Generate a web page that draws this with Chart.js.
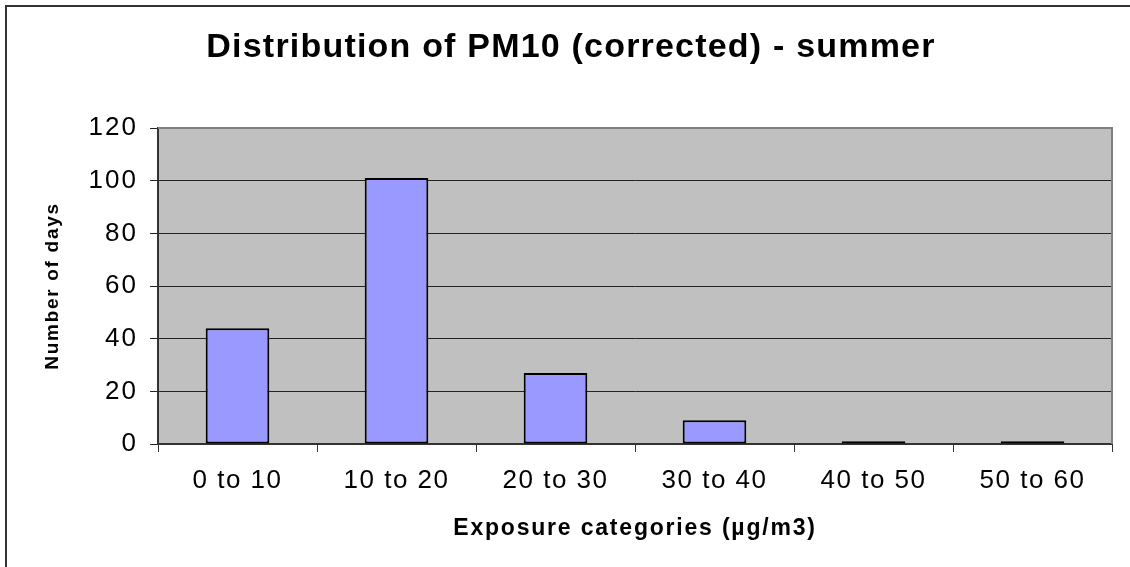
<!DOCTYPE html>
<html>
<head>
<meta charset="utf-8">
<script src="https://cdn.jsdelivr.net/npm/chart.js@4.4.1/dist/chart.umd.min.js"></script>
<style>
  html, body { margin: 0; padding: 0; background: #fff; overflow: hidden; }
  #frame { position: absolute; left: 5px; top: 5px; width: 2000px; height: 2000px;
           border-top: 2px solid #333; border-left: 2px solid #333; box-sizing: border-box; }
  #wrap { position: absolute; left: 0; top: 0; width: 1130px; height: 567px; }
</style>
</head>
<body>
<div id="frame"></div>
<div id="wrap"><canvas id="pmChart" width="1130" height="567"></canvas></div>
<script>
// data
const categories = ['0 to 10', '10 to 20', '20 to 30', '30 to 40', '40 to 50', '50 to 60'];
const dayCounts = [44, 101, 27, 9, 1, 1];
const yMin = 0, yMax = 120, yStep = 20;

const chartTitle = 'Distribution of PM10 (corrected) - summer';
const xTitle = 'Exposure categories (\u00b5g/m3)';
const yTitle = 'Number of days';

const FONT = '"Liberation Sans", Arial, sans-serif';

// wraps a draw method so the text comes out a bit wider, like the original
function spaced(obj, method, px) {
    if (!obj || obj['_sp_' + method]) return;
    const orig = obj[method];
    obj[method] = function(...args) {
        const c = this.ctx;
        const prev = c.letterSpacing;
        c.letterSpacing = px + 'px';
        orig.apply(this, args);
        c.letterSpacing = prev;
    };
    obj['_sp_' + method] = true;
}

const plotArea = {
    id: 'plotArea',
    beforeDraw(chart) {
        const a = chart.chartArea, ctx = chart.ctx;
        ctx.save();
        ctx.fillStyle = '#c0c0c0';
        ctx.fillRect(a.left, a.top, a.right - a.left, a.bottom - a.top);
        ctx.restore();
        spaced(chart.titleBlock, 'draw', 1.2);
        spaced(chart.scales.x, 'drawLabels', 1.5);
        spaced(chart.scales.x, 'drawTitle', 1.8);
        spaced(chart.scales.y, 'drawLabels', 2);
        spaced(chart.scales.y, 'drawTitle', 1.7);
    },
    beforeDatasetsDraw(chart) {
        const a = chart.chartArea, ctx = chart.ctx;
        ctx.save();
        ctx.strokeStyle = '#808080';
        ctx.lineWidth = 2;
        ctx.beginPath();
        ctx.moveTo(a.left, a.top);
        ctx.lineTo(a.right, a.top);
        ctx.lineTo(a.right, a.bottom);
        ctx.stroke();
        ctx.restore();
    }
};

const ctx = document.getElementById('pmChart').getContext('2d');
const pmChart = new Chart(ctx, {
    type: 'bar',
    data: {
        labels: categories,
        datasets: [{
            label: 'Days',
            data: dayCounts,
            backgroundColor: '#9999ff',
            borderColor: '#000',
            borderWidth: 2,
            borderSkipped: false,
            barPercentage: 0.4,
            categoryPercentage: 1.0
        }]
    },
    options: {
        responsive: false,
        animation: false,
        layout: { padding: { left: 30, right: 18, top: 0, bottom: 0 } },
        plugins: {
            legend: { display: false },
            tooltip: { enabled: false },
            title: {
                display: true,
                text: chartTitle,
                color: '#000',
                font: { family: FONT, size: 34, weight: 'bold' },
                padding: { top: 27, bottom: 60.2 }
            }
        },
        scales: {
            x: {
                afterFit: s => { s.height = 123; },
                grid: {
                    offset: true,
                    drawOnChartArea: false,
                    drawTicks: true,
                    tickLength: 8,
                    color: '#333'
                },
                border: { color: '#333', width: 2 },
                ticks: {
                    color: '#000',
                    padding: 13,
                    maxRotation: 0,
                    font: { family: FONT, size: 26 }
                },
                title: {
                    display: true,
                    text: xTitle,
                    color: '#000',
                    font: { family: FONT, size: 23, weight: 'bold' },
                    padding: { top: 0, bottom: 25 }
                }
            },
            y: {
                min: yMin,
                max: yMax,
                afterFit: s => { s.width = 128; },
                grid: {
                    color: '#222',
                    lineWidth: 1,
                    tickLength: 8
                },
                border: { color: '#333', width: 2 },
                ticks: {
                    stepSize: yStep,
                    color: '#000',
                    padding: 12,
                    font: { family: FONT, size: 26 }
                },
                title: {
                    display: true,
                    text: yTitle,
                    color: '#000',
                    font: { family: FONT, size: 19, weight: 'bold' },
                    padding: { top: 11, bottom: 0 }
                }
            }
        }
    },
    plugins: [plotArea]
});
</script>
</body>
</html>
